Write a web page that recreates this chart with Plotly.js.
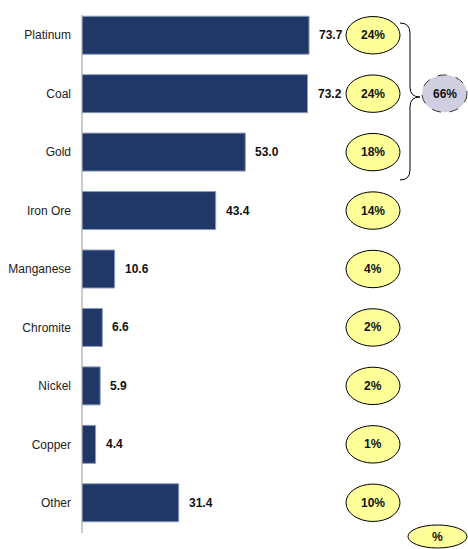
<!DOCTYPE html>
<html>
<head>
<meta charset="utf-8">
<script src="https://cdn.plot.ly/plotly-3.0.1.min.js"></script>
<style>html,body{margin:0;padding:0;background:#fff}#chart{width:468px;height:549px}</style>
</head>
<body>
<div id="chart"></div>
<script>
const categories = ["Platinum","Coal","Gold","Iron Ore","Manganese","Chromite","Nickel","Copper","Other"];
const values = [73.7,73.2,53.0,43.4,10.6,6.6,5.9,4.4,31.4];
const shares = ["24%","24%","18%","14%","4%","2%","2%","1%","10%"];
const groupShare = "66%";
const unitLabel = "%";

const W = 468, H = 549, ML = 82, MR = 0, MT = 6, MB = 17;
const PW = W - ML - MR, PH = H - MT - MB;
const XMAX = 125.3;
const px2x = p => (p - ML) * XMAX / PW;      // pixel -> data x
const pxPaperX = p => (p - ML) / PW;
const pxPaperY = p => (H - MB - p) / PH;
const boldFont = {family: 'Arial, Liberation Sans', size: 12, color: '#111', weight: 'bold'};

const shapes = [];
const annotations = [];

// value labels
categories.forEach((c, i) => {
  annotations.push({x: values[i], y: c, xref: 'x', yref: 'y', text: values[i].toFixed(1),
    showarrow: false, xanchor: 'left', yanchor: 'middle', xshift: 8, font: boldFont});
});

// yellow ellipses
const ex0 = px2x(346), ex1 = px2x(400), exc = px2x(373);
categories.forEach((c, i) => {
  shapes.push({type: 'circle', xref: 'x', yref: 'y', x0: ex0, x1: ex1, y0: i - 0.32, y1: i + 0.32,
    fillcolor: '#FFFF99', line: {color: '#000', width: 1}, layer: 'above'});
  annotations.push({x: exc, y: c, xref: 'x', yref: 'y', text: shares[i], showarrow: false,
    xanchor: 'center', yanchor: 'middle', font: boldFont});
});

// gray group ellipse
shapes.push({type: 'circle', xref: 'paper', yref: 'y', x0: pxPaperX(422), x1: pxPaperX(467), y0: 1 - 0.32, y1: 1 + 0.32,
  fillcolor: '#CFCFE0', line: {color: '#333', width: 1, dash: 'dash'}, layer: 'above'});
annotations.push({x: pxPaperX(444.5), y: categories[1], xref: 'paper', yref: 'y', text: groupShare, showarrow: false,
  xanchor: 'center', yanchor: 'middle', font: boldFont});

// curly brace
const P = (x, y) => pxPaperX(x).toFixed(4) + ',' + pxPaperY(y).toFixed(4);
const brace = 'M' + P(400, 23) + ' Q' + P(410, 23) + ' ' + P(410, 33) +
  ' L' + P(410, 87) + ' Q' + P(410, 97) + ' ' + P(420, 97) +
  ' Q' + P(410, 97) + ' ' + P(410, 107) + ' L' + P(410, 170) +
  ' Q' + P(410, 180) + ' ' + P(400, 180);
shapes.push({type: 'path', xref: 'paper', yref: 'paper', path: brace, line: {color: '#000', width: 1}});

// bottom unit ellipse
shapes.push({type: 'circle', xref: 'paper', yref: 'paper', x0: pxPaperX(408), x1: pxPaperX(467),
  y0: pxPaperY(548), y1: pxPaperY(525), fillcolor: '#FFFF99', line: {color: '#000', width: 1}});
annotations.push({x: pxPaperX(437.5), y: pxPaperY(537), xref: 'paper', yref: 'paper', text: unitLabel, showarrow: false,
  xanchor: 'center', yanchor: 'middle', font: boldFont});

const trace = {type: 'bar', orientation: 'h', x: values, y: categories, width: 0.65,
  marker: {color: '#1F3868', line: {color: '#8C9BBB', width: 1}}, hoverinfo: 'none'};

const layout = {
  width: W, height: H, margin: {l: ML, r: MR, t: MT, b: MB, pad: 0},
  paper_bgcolor: '#fff', plot_bgcolor: '#fff', showlegend: false,
  xaxis: {range: [0, XMAX], visible: false, fixedrange: true},
  yaxis: {type: 'category', range: [8.5, -0.5], showgrid: false, zeroline: false,
    showline: false, ticks: '', ticklabelstandoff: 10,
    tickfont: {family: 'Arial, Liberation Sans', size: 12, color: '#222'}},
  shapes: shapes.concat([{type: 'line', xref: 'paper', yref: 'paper', x0: 0, x1: 0,
    y0: pxPaperY(533), y1: pxPaperY(15), line: {color: '#999', width: 1}}]),
  annotations: annotations
};

Plotly.newPlot('chart', [trace], layout, {displayModeBar: false, staticPlot: true});
</script>
</body>
</html>
